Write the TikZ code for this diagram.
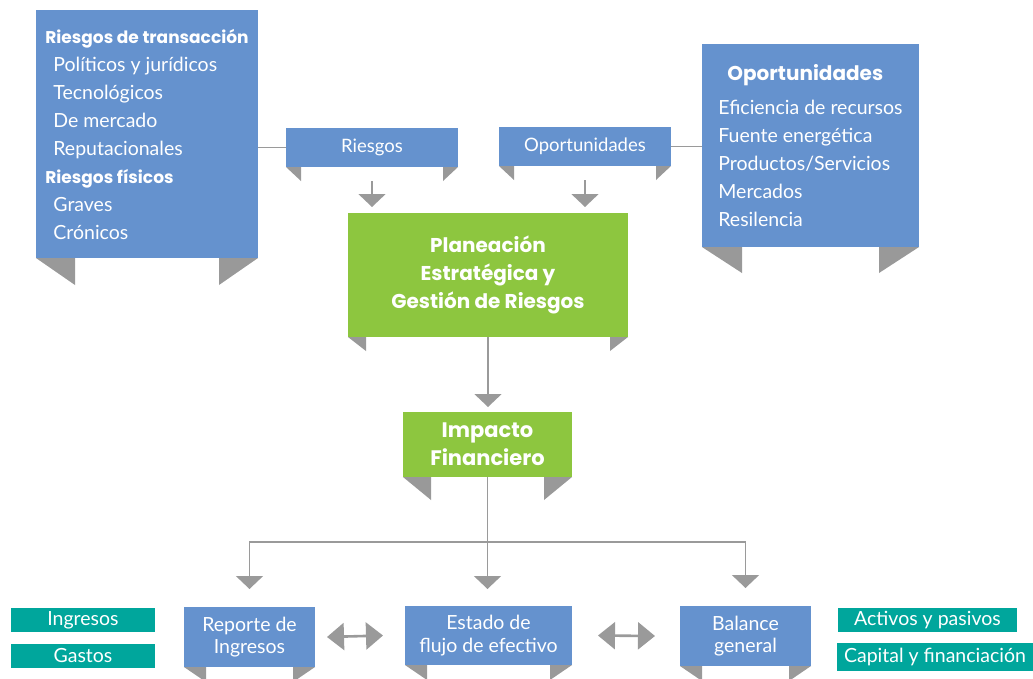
\documentclass[tikz,border=0pt]{standalone}
\usepackage{fontspec}
\setmainfont{Lato}
\newfontfamily\titulo{Poppins}
\usetikzlibrary{arrows.meta}

\definecolor{cajaazul}{HTML}{6592CE}
\definecolor{cajaverde}{HTML}{8DC63F}
\definecolor{cajaturq}{HTML}{00A69C}
\definecolor{plieguegris}{HTML}{999999}
\definecolor{lineagris}{HTML}{9A9A9A}

\tikzset{
  caja/.style={rectangle, inner sep=0pt, outer sep=0pt, text=white, align=center},
  azul/.style={caja, fill=cajaazul, font=\fontsize{19.5}{22.5}\selectfont},
  verde/.style={caja, fill=cajaverde, font=\titulo\bfseries\fontsize{20}{28}\selectfont},
  turquesa/.style={caja, fill=cajaturq, font=\fontsize{19.5}{22}\selectfont},
  linea/.style={draw=lineagris, line width=1.8pt},
  flecha/.style={linea, -{Triangle[width=27pt,length=13pt]}},
  doble/.style={draw=lineagris, line width=2.6pt,
    {Triangle[width=27pt,length=17pt]}-{Triangle[width=27pt,length=17pt]}},
}

% pliegues grises bajo una caja: nodo, ancho, alto
\newcommand{\pliegue}[3]{%
  \fill[plieguegris] (#1.south west) -- ++(#2,0) -- ++(0,#3) -- cycle;
  \fill[plieguegris] (#1.south east) -- ++(-#2,0) -- ++(0,#3) -- cycle;
}
\newcommand{\encabezado}[1]{{\titulo\bfseries\fontsize{17}{28}\selectfont #1}}

\begin{document}
\begin{tikzpicture}[x=1pt, y=-1pt]
  \useasboundingbox (0,0) rectangle (1033,678);

  % cajas superiores
  \node[azul, minimum width=222pt, minimum height=248pt, align=left,
        font=\fontsize{19.5}{28}\selectfont] (riesgosbox) at (147,134)
    {\encabezado{Riesgos de transacción}\\
     \hspace*{8pt}Políticos y jurídicos\\
     \hspace*{8pt}Tecnológicos\\
     \hspace*{8pt}De mercado\\
     \hspace*{8pt}Reputacionales\\
     \encabezado{Riesgos físicos}\\
     \hspace*{8pt}Graves\\
     \hspace*{8pt}Crónicos};
  \node[azul, minimum width=217pt, minimum height=203pt, align=left,
        font=\fontsize{19.5}{28}\selectfont] (oportbox) at (810.5,145.5)
    {\hspace*{9pt}{\titulo\bfseries\fontsize{20}{28}\selectfont Oportunidades}\\[6pt]
     Eficiencia de recursos\\
     Fuente energética\\
     Productos/Servicios\\
     Mercados\\
     Resilencia};
  \node[azul, minimum width=172pt, minimum height=39pt, font=\fontsize{18.5}{22}\selectfont]
    (riesgos) at (372,147.5) {Riesgos};
  \node[azul, minimum width=172pt, minimum height=39pt, font=\fontsize{18.5}{22}\selectfont]
    (oport) at (585,146.5) {Oportunidades};

  % cajas centrales
  \node[verde, minimum width=280pt, minimum height=124pt] (plan) at (488,275)
    {Planeación\\Estratégica y\\Gestión de Riesgos};
  \node[verde, minimum width=169pt, minimum height=65pt, font=\titulo\bfseries\fontsize{21}{28}\selectfont]
    (impacto) at (487.5,444.5) {Impacto\\Financiero};

  % estados financieros
  \node[azul, minimum width=131pt, minimum height=60pt] (reporte) at (249.5,637)
    {Reporte de\\Ingresos};
  \node[azul, minimum width=167pt, minimum height=59pt] (estado) at (488.5,635.5)
    {Estado de\\flujo de efectivo};
  \node[azul, minimum width=131pt, minimum height=60pt] (balance) at (745.5,636)
    {Balance\\general};

  \node[turquesa, minimum width=144pt, minimum height=24pt] (ingresos) at (83,620) {Ingresos};
  \node[turquesa, minimum width=144pt, minimum height=24pt] (gastos) at (83,656) {Gastos};
  \node[turquesa, minimum width=179pt, minimum height=24pt] (activos) at (927.5,620) {Activos y pasivos};
  \node[turquesa, minimum width=196pt, minimum height=28pt] (capital) at (935,657) {Capital y financiación};

  % pliegues
  \pliegue{riesgosbox}{39}{27}
  \pliegue{oportbox}{40}{26}
  \pliegue{riesgos}{15}{14}
  \pliegue{oport}{15}{14}
  \pliegue{plan}{18}{14}
  \pliegue{impacto}{28}{23}
  \pliegue{reporte}{22}{15}
  \pliegue{estado}{22}{15}
  \pliegue{balance}{22}{15}

  % conectores
  \draw[linea] (riesgos.west) -- (riesgos.west -| riesgosbox.east);
  \draw[linea] (oport.east) -- (oport.east -| oportbox.west);
  \draw[flecha, shorten >=6pt] ([yshift=-14pt]riesgos.south) -- (riesgos.south |- plan.north);
  \draw[flecha, shorten >=6pt] ([yshift=-14pt]oport.south) -- (oport.south |- plan.north);
  \draw[flecha, shorten >=5pt] (plan.south) -- (plan.south |- impacto.north);

  \coordinate (fork) at ([yshift=-65pt]impacto.south);
  \draw[flecha, shorten >=17pt] (impacto.south) -- (impacto.south |- estado.north);
  \draw[flecha, shorten >=18pt] (fork) -| (reporte.north);
  \draw[flecha, shorten >=18pt] (fork) -| (balance.north);

  \draw[doble] ([xshift=12pt]reporte.east) -- ([xshift=-22pt]estado.west);
  \draw[doble] ([xshift=26pt]estado.east) -- ([xshift=-25pt]balance.west);
\end{tikzpicture}
\end{document}
